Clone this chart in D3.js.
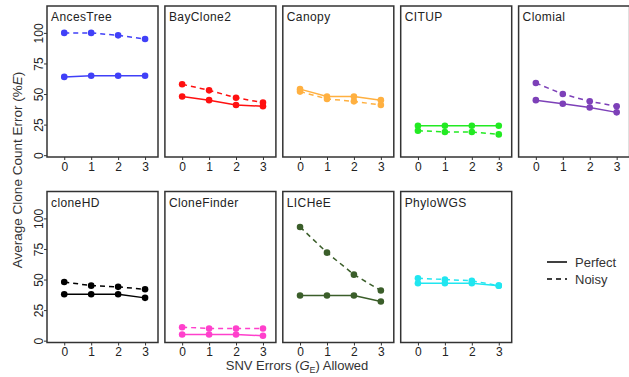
<!DOCTYPE html>
<html>
<head>
<meta charset="utf-8">
<script src="https://cdn.jsdelivr.net/npm/d3@7"></script>
<style>
  body { margin: 0; background: #fff; }
  svg { font-family: "Liberation Sans", Arial, sans-serif; }
</style>
</head>
<body>
<svg id="chart" width="629" height="377"></svg>
<script>
// data
const methods = ["AncesTree", "BayClone2", "Canopy", "CITUP", "Clomial",
                 "cloneHD", "CloneFinder", "LICHeE", "PhyloWGS"];
const colors = ["#4040f8", "#ff1010", "#ffb040", "#22ea22", "#7d40b8",
                "#000000", "#ff40cc", "#3b5e2a", "#20e6f0"];
const errorsAllowed = [0, 1, 2, 3];
const perfect = [
  [64, 65, 65, 65],
  [48, 45, 41, 40],
  [54, 48, 48, 45],
  [24, 24, 24, 24],
  [45, 42, 39, 35],
  [38, 38, 38, 35],
  [5, 5, 5, 4],
  [37, 37, 37, 32],
  [47, 47, 47, 45]
];
const noisy = [
  [100, 100, 98, 95],
  [58, 53, 47, 43],
  [52, 46, 44, 41],
  [20, 19, 19, 17],
  [59, 50, 44, 40],
  [48, 45, 44, 42],
  [11, 10, 10, 10],
  [93, 72, 54, 41],
  [51, 50, 49, 45]
];
const yTicks = [0, 25, 50, 75, 100];
const legendLabels = ["Perfect", "Noisy"];

const svg = d3.select("#chart");

// panel grid
const panelW = 111, panelH = 151;
const colLeft = d3.scaleLinear().domain([0, 4]).range([47, 518.6]);
const rowTop = [6, 191.5];

const x = d3.scaleLinear().domain([-0.64, 3.48]).range([0, panelW]);
const y = d3.scaleLinear().domain([-1.5, 122]).range([panelH, 0]);

const line = d3.line()
    .x((d, i) => x(errorsAllowed[i]))
    .y(d => y(d));

methods.forEach((name, k) => {
    const row = k < 5 ? 0 : 1;
    const col = k < 5 ? k : k - 5;
    const g = svg.append("g")
        .attr("transform", `translate(${colLeft(col)},${rowTop[row]})`);

    // x axis
    const xa = g.append("g")
        .attr("transform", `translate(0,${panelH})`)
        .call(d3.axisBottom(x).tickValues(errorsAllowed).tickSize(3).tickPadding(2).tickFormat(d3.format("d")));
    xa.select(".domain").remove();
    xa.selectAll("line").attr("stroke", "#333");
    xa.selectAll("text").style("font-size", "12px").attr("fill", "#222");

    // y axis only on first column
    if (col === 0) {
        const ya = g.append("g")
            .call(d3.axisLeft(y).tickValues(yTicks).tickSize(3));
        ya.select(".domain").remove();
        ya.selectAll("line").attr("stroke", "#333");
        ya.selectAll("text")
            .attr("transform", "rotate(-90)")
            .attr("x", 0)
            .attr("y", -4)
            .attr("dy", 0)
            .attr("text-anchor", "middle")
            .style("font-size", "12px")
            .attr("fill", "#222");
    }

    // series
    const c = colors[k];
    [[perfect[k], null], [noisy[k], "5,4"]].forEach(([vals, dash]) => {
        g.append("path")
            .datum(vals)
            .attr("d", line)
            .attr("fill", "none")
            .attr("stroke", c)
            .attr("stroke-width", 1.5)
            .attr("stroke-dasharray", dash);
        g.selectAll(null)
            .data(vals)
            .enter()
            .append("circle")
            .attr("cx", (d, i) => x(errorsAllowed[i]))
            .attr("cy", d => y(d))
            .attr("r", 3.3)
            .attr("fill", c);
    });

    // border + title
    g.append("rect")
        .attr("width", panelW)
        .attr("height", panelH)
        .attr("fill", "none")
        .attr("stroke", "#333")
        .attr("stroke-width", 1.5);
    g.append("text")
        .attr("x", 4)
        .attr("y", 15)
        .style("font-size", "12px")
        .style("letter-spacing", "0.4px")
        .attr("fill", "#222")
        .text(name);
});

// axis titles
const xt = svg.append("text")
    .attr("x", 297)
    .attr("y", 370)
    .attr("text-anchor", "middle")
    .style("font-size", "13px")
    .attr("fill", "#333");
xt.append("tspan").text("SNV Errors (");
xt.append("tspan").style("font-style", "italic").text("G");
xt.append("tspan").attr("dy", 3).style("font-size", "9px").text("E");
xt.append("tspan").attr("dy", -3).text(") Allowed");

const yt = svg.append("text")
    .attr("transform", "translate(22,170) rotate(-90)")
    .attr("text-anchor", "middle")
    .style("font-size", "13.5px")
    .attr("fill", "#333");
yt.append("tspan").text("Average Clone Count Error (%");
yt.append("tspan").style("font-style", "italic").text("E");
yt.append("tspan").text(")");

// legend
const leg = svg.append("g").attr("transform", "translate(547,262)");
legendLabels.forEach((lab, i) => {
    leg.append("line")
        .attr("x1", 0).attr("x2", 20)
        .attr("y1", i * 17).attr("y2", i * 17)
        .attr("stroke", "#000")
        .attr("stroke-width", 1.5)
        .attr("stroke-dasharray", i === 1 ? "5,4" : null);
    leg.append("text")
        .attr("x", 28)
        .attr("y", i * 17)
        .attr("dy", "0.35em")
        .style("font-size", "13px")
        .attr("fill", "#333")
        .text(lab);
});
</script>
</body>
</html>
